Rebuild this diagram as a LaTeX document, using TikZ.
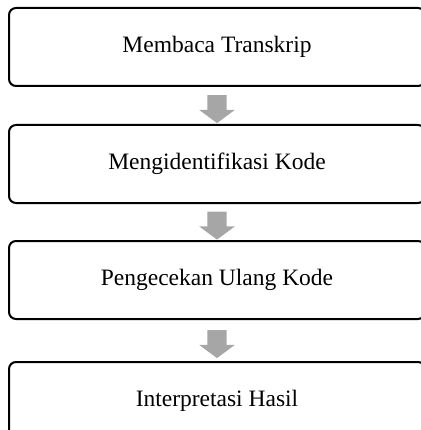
\documentclass[tikz,border=0pt]{standalone}
\usepackage{fontspec}
\setmainfont{Liberation Serif}
\usepackage{tikz}
\usetikzlibrary{positioning, shapes.arrows, calc}

\definecolor{arrowgray}{RGB}{166,166,166}

\begin{document}
\begin{tikzpicture}[
    x=1pt, y=1pt,
    box/.style={
        rectangle,
        rounded corners=7pt,
        draw=black,
        line width=2pt,
        align=center,
        minimum width=416pt,
        minimum height=78pt,
        font=\fontsize{23.5}{28}\selectfont
    },
    downarrow/.style={
        single arrow,
        fill=arrowgray,
        draw=none,
        rotate=-90,
        inner sep=0pt,
        inner ysep=9.5pt,
        minimum height=28pt,
        single arrow head extend=8pt,
        single arrow tip angle=107
    }
]
\useasboundingbox (0,0) rectangle (420,-430);

\node[box] (read) at (217,-47) {Membaca Transkrip};
\node[box, below=37pt of read] (code) {Mengidentifikasi Kode};
\node[box, below=36pt of code] (check) {Pengecekan Ulang Kode};
\node[box, below=41pt of check] (interp) {Interpretasi Hasil};

\node[downarrow] (a1) at ($(read.south)!0.5!(code.north)$) {};
\node[downarrow] (a2) at ($(code.south)!0.5!(check.north)$) {};
\node[downarrow] (a3) at ($(check.south)!0.5!(interp.north)$) {};

\end{tikzpicture}
\end{document}
